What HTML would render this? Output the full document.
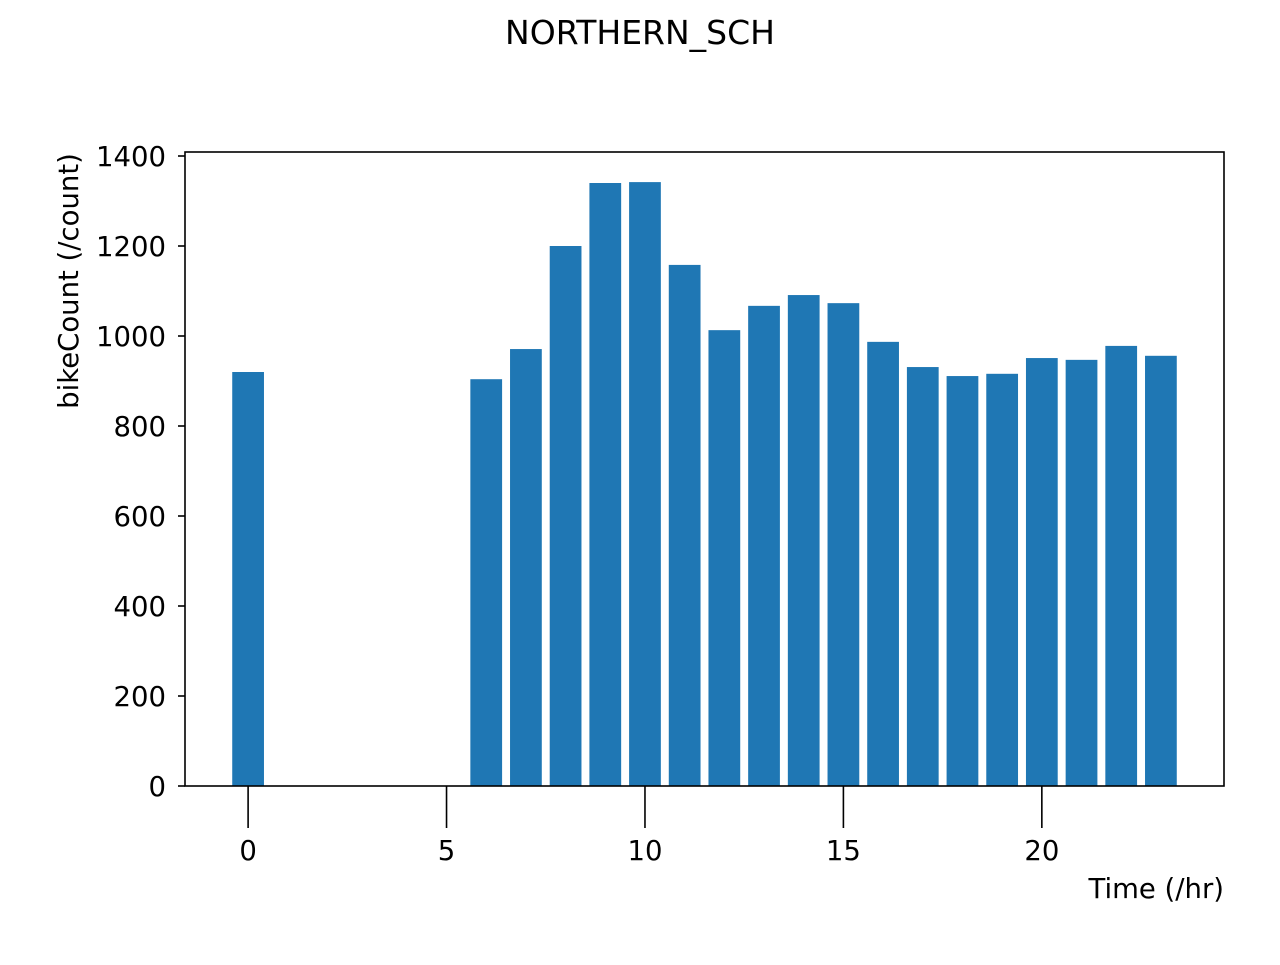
<!DOCTYPE html>
<html><head><meta charset="utf-8"><style>
body{margin:0;background:#fff;}
svg text{font-family:"DejaVu Sans","Liberation Sans",sans-serif;fill:#000;}
</style></head><body>
<svg id="chart" width="1280" height="960">
<rect width="1280" height="960" fill="#fff"/>
<text x="640" y="44" font-size="33" text-anchor="middle">NORTHERN_SCH</text>
<g id="bars"></g><g id="axes"></g>
<text x="1224" y="898" font-size="27.5" text-anchor="end">Time (/hr)</text>
<text transform="translate(78,281) rotate(-90)" font-size="27.5" text-anchor="middle">bikeCount (/count)</text>
</svg>
<script>
const hours=[0,1,2,3,4,5,6,7,8,9,10,11,12,13,14,15,16,17,18,19,20,21,22,23];
const counts=[920,0,0,0,0,0,904,971,1200,1340,1342,1158,1013,1067,1091,1073,987,931,911,916,951,947,978,956];
const yTicks=[0,200,400,600,800,1000,1200,1400];
const xTicks=[0,5,10,15,20];
const L=185,R=1224,T=152,B=786;
const x0=-1.59,x1=24.59,y0=0,y1=1408.9;
const sx=v=>L+(v-x0)/(x1-x0)*(R-L);
const sy=v=>B-(v-y0)/(y1-y0)*(B-T);
const NS="http://www.w3.org/2000/svg";
const bars=document.getElementById('bars'),axes=document.getElementById('axes');
function mk(tag,attrs,parent){const e=document.createElementNS(NS,tag);for(const k in attrs)e.setAttribute(k,attrs[k]);parent.appendChild(e);return e;}
hours.forEach((h,i)=>{
  const v=counts[i];
  const r=mk('rect',{x:sx(h-0.4),y:sy(v),width:sx(h+0.4)-sx(h-0.4),height:sy(0)-sy(v),fill:'#1f77b4'},bars);
  
  
});
const frame=mk('rect',{x:L,y:T,width:R-L,height:B-T,fill:'none',stroke:'#000','stroke-width':1.6},axes);


yTicks.forEach(t=>{
  const y=sy(t);
  mk('line',{x1:L-7,x2:L,y1:y,y2:y,stroke:'#000','stroke-width':1.6},axes);
  const tx=mk('text',{x:L-19,y:y+10,'font-size':27.5,'text-anchor':'end'},axes);
  tx.textContent=t;
  
  
});
xTicks.forEach(t=>{
  const x=sx(t);
  mk('line',{x1:x,x2:x,y1:B,y2:B+42,stroke:'#000','stroke-width':1.6},axes);
  const tx=mk('text',{x:x,y:B+74,'font-size':27.5,'text-anchor':'middle'},axes);
  tx.textContent=t;
  
  
});
</script>
</body></html>
